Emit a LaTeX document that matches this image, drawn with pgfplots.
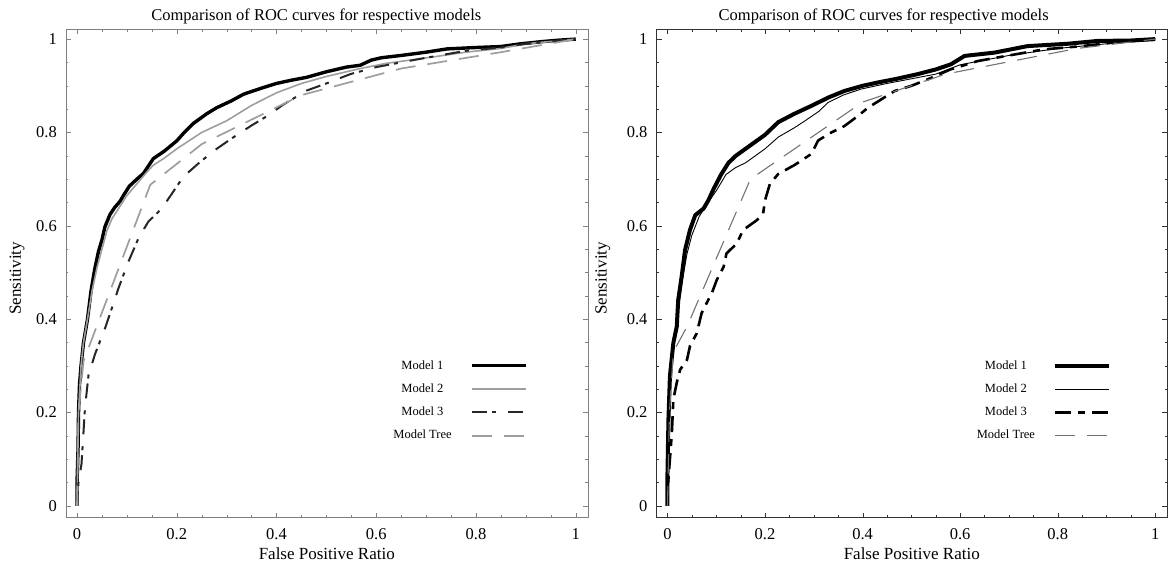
\documentclass[border=0pt]{standalone}
\usepackage{fontspec}
\setmainfont{Liberation Serif}
\usepackage{pgfplots}
\pgfplotsset{compat=1.18}

% shared look of both ROC panels
\pgfplotsset{
  roc/.style={
    scale only axis, height=488.3pt,
    xmin=-0.0225, xmax=1.024, ymin=-0.025, ymax=1.021,
    xtick={0,0.2,0.4,0.6,0.8,1}, ytick={0,0.2,0.4,0.6,0.8,1},
    xticklabels={0,0.2,0.4,0.6,0.8,1}, yticklabels={0,0.2,0.4,0.6,0.8,1},
    minor x tick num=3, minor y tick num=3,
    tick align=inside, major tick length=5pt, minor tick length=2.5pt,
    /pgf/number format/assume math mode=true,
    tick label style={font=\fontsize{16.5}{18}\selectfont},
    xticklabel style={yshift=-7.5pt},
    yticklabel style={xshift=-5.5pt},
    label style={font=\fontsize{17}{19}\selectfont},
    title style={font=\fontsize{16.5}{18}\selectfont, anchor=center},
    title={Comparison of ROC curves for respective models},
    xlabel={False Positive Ratio}, ylabel={Sensitivity},
    xlabel style={at={(axis description cs:0.5,-0.073)}, anchor=center},
    legend plot pos=right, legend cell align=center,
    legend image code/.code={\draw[#1] (0pt,0pt) -- (54pt,0pt);},
    legend style={draw=none, fill=none, inner sep=0pt, outer sep=0pt,
      row sep=7.8pt, anchor=north east,
      nodes={inner sep=2pt, text height=9pt, text depth=2.5pt,
        font=\fontsize{12.5}{14}\selectfont}},
    every axis plot/.append style={line join=round},
  }
}

\begin{document}
\begin{tikzpicture}
\useasboundingbox (0,0) rectangle (1169pt,563pt);

% ---------------- left panel ----------------
\begin{axis}[roc, at={(65.8pt,45.4pt)}, anchor=south west, width=521.9pt,
  axis line style={black!50}, tick style={black!50},
  title style={at={(axis description cs:0.48,1.014)}},
  ylabel style={at={(axis description cs:-0.0935,0.49)}, anchor=center},
  legend style={at={(axis description cs:0.8856,0.3268)}, column sep=17pt},
]
\addplot[black, line width=3.4pt] coordinates {
(0,0) (0,0.05) (0.002,0.12) (0.003,0.2) (0.005,0.26) (0.008,0.3) (0.013,0.35)
(0.021,0.40) (0.028,0.46) (0.036,0.51) (0.043,0.545) (0.05,0.57) (0.056,0.598)
(0.066,0.624) (0.076,0.64) (0.086,0.652) (0.093,0.665) (0.105,0.685) (0.12,0.70)
(0.133,0.712) (0.153,0.744) (0.175,0.76) (0.2,0.782) (0.215,0.80) (0.234,0.82)
(0.26,0.84) (0.28,0.853) (0.31,0.868) (0.334,0.882) (0.37,0.895) (0.4,0.905)
(0.43,0.912) (0.46,0.918) (0.5,0.93) (0.54,0.94) (0.568,0.944) (0.59,0.955)
(0.61,0.96) (0.65,0.965) (0.7,0.972) (0.742,0.979) (0.8,0.982) (0.849,0.984)
(0.89,0.99) (0.936,0.995) (0.97,0.998) (1,1)
};
\addlegendentry{Model 1}
\addplot[black!38, line width=1.6pt] coordinates {
(0,0) (0.003,0.2) (0.008,0.3) (0.013,0.35) (0.021,0.40) (0.03,0.46) (0.04,0.51)
(0.05,0.55) (0.06,0.59) (0.07,0.615) (0.085,0.64) (0.1,0.665) (0.12,0.69)
(0.14,0.715) (0.153,0.73) (0.175,0.745) (0.2,0.765) (0.25,0.80) (0.3,0.825)
(0.35,0.858) (0.4,0.885) (0.45,0.905) (0.5,0.92) (0.568,0.937) (0.62,0.948)
(0.715,0.962) (0.78,0.972) (0.85,0.98) (0.9,0.99) (0.95,0.995) (1,1)
};
\addlegendentry{Model 2}
\addplot[black!85, line width=2pt, dash pattern=on 15pt off 5pt on 4pt off 12pt] coordinates {
(0,0) (0.003,0.05) (0.009,0.09) (0.016,0.21) (0.023,0.28) (0.036,0.325)
(0.056,0.38) (0.07,0.424) (0.083,0.466) (0.103,0.523) (0.123,0.573)
(0.143,0.609) (0.17,0.637) (0.213,0.705) (0.247,0.737) (0.28,0.765)
(0.314,0.79) (0.35,0.815) (0.381,0.835) (0.414,0.86) (0.461,0.89) (0.5,0.905)
(0.548,0.925) (0.6,0.94) (0.649,0.95) (0.7,0.96) (0.78,0.975) (0.85,0.982)
(0.9,0.99) (0.95,0.995) (1,1)
};
\addlegendentry{Model 3}
\addplot[black!38, line width=1.7pt, dash pattern=on 20pt off 12pt] coordinates {
(0,0) (0.003,0.2) (0.013,0.31) (0.147,0.688) (0.25,0.775) (0.45,0.88)
(0.65,0.937) (0.85,0.972) (1,1)
};
\addlegendentry{Model Tree}
\end{axis}

% ---------------- right panel ----------------
\begin{axis}[roc, at={(656.5pt,45.4pt)}, anchor=south west, width=510.5pt,
  axis line style={black!80}, tick style={black!80},
  title style={at={(axis description cs:0.445,1.014)}},
  ylabel style={at={(axis description cs:-0.105,0.49)}, anchor=center},
  legend style={at={(axis description cs:0.8903,0.3268)}, column sep=16pt},
]
\addplot[black, line width=4pt] coordinates {
(0,0) (0,0.07) (0.002,0.186) (0.005,0.278) (0.012,0.349) (0.019,0.384)
(0.022,0.441) (0.029,0.491) (0.036,0.548) (0.046,0.591) (0.057,0.623)
(0.074,0.637) (0.084,0.655) (0.095,0.68) (0.11,0.71) (0.125,0.735) (0.14,0.75)
(0.16,0.765) (0.18,0.78) (0.2,0.795) (0.227,0.822) (0.26,0.84) (0.295,0.857)
(0.33,0.875) (0.363,0.889) (0.4,0.9) (0.431,0.907) (0.47,0.915) (0.513,0.925)
(0.55,0.935) (0.581,0.946) (0.609,0.964) (0.67,0.971) (0.738,0.985) (0.82,0.99)
(0.881,0.996) (0.95,0.997) (1,1)
};
\addlegendentry{Model 1}
\addplot[black, line width=0.9pt] coordinates {
(0,0) (0.003,0.2) (0.01,0.33) (0.02,0.4) (0.03,0.48) (0.04,0.54) (0.05,0.58)
(0.065,0.62) (0.08,0.645) (0.1,0.675) (0.12,0.71) (0.14,0.725) (0.16,0.735)
(0.2,0.765) (0.227,0.79) (0.26,0.81) (0.282,0.825) (0.31,0.845) (0.329,0.864)
(0.36,0.88) (0.397,0.893) (0.45,0.905) (0.5,0.915) (0.55,0.925) (0.6,0.945)
(0.65,0.955) (0.7,0.965) (0.8,0.98) (0.9,0.99) (1,1)
};
\addlegendentry{Model 2}
\addplot[black, line width=2.6pt, dash pattern=on 16pt off 7pt on 7pt off 7pt] coordinates {
(0,0) (0,0.03) (0.009,0.157) (0.012,0.228) (0.019,0.264) (0.026,0.292)
(0.04,0.313) (0.046,0.342) (0.06,0.37) (0.07,0.413) (0.08,0.434) (0.091,0.456)
(0.101,0.484) (0.115,0.512) (0.121,0.541) (0.142,0.562) (0.155,0.591)
(0.183,0.612) (0.196,0.626) (0.2,0.655) (0.21,0.69) (0.227,0.711) (0.26,0.73)
(0.295,0.754) (0.309,0.783) (0.336,0.80) (0.363,0.814) (0.39,0.835)
(0.411,0.853) (0.44,0.872) (0.466,0.889) (0.5,0.90) (0.534,0.914) (0.58,0.935)
(0.636,0.953) (0.7,0.965) (0.772,0.978) (0.85,0.985) (0.909,0.992) (1,1)
};
\addlegendentry{Model 3}
\addplot[black!55, line width=1.1pt, dash pattern=on 20pt off 12pt] coordinates {
(0,0) (0.004,0.2) (0.012,0.33) (0.04,0.384) (0.17,0.70) (0.4,0.865)
(0.57,0.925) (0.84,0.98) (1,1)
};
\addlegendentry{Model Tree}
\end{axis}
\end{tikzpicture}
\end{document}
